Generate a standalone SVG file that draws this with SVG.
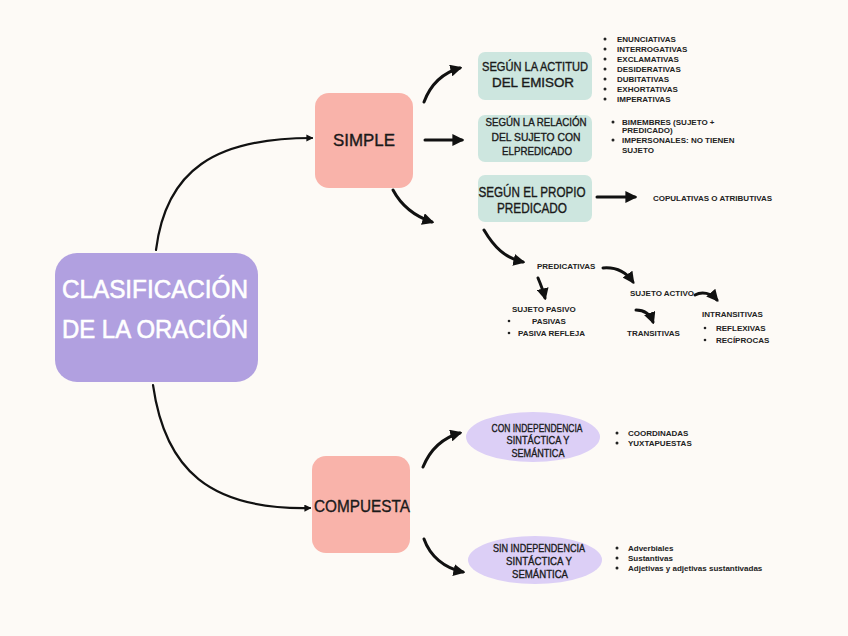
<svg xmlns="http://www.w3.org/2000/svg" width="848" height="636" viewBox="0 0 848 636">
<defs>
<marker id="ah" viewBox="0 0 10 10" refX="8" refY="5" markerWidth="4" markerHeight="4" orient="auto" markerUnits="strokeWidth">
<path d="M0,0 L10,5 L0,10 Z" fill="#111"/>
</marker>
<marker id="ahs" viewBox="0 0 10 10" refX="8" refY="5" markerWidth="3.2" markerHeight="3.2" orient="auto" markerUnits="strokeWidth">
<path d="M0,0 L10,5 L0,10 Z" fill="#111"/>
</marker>
<style>
.hd{font-family:"Liberation Sans","Open Sans",sans-serif;fill:#1a1a1a;stroke:#1a1a1a;stroke-width:0.35;text-anchor:middle}
.wt{fill:#fff;stroke:#fff;stroke-width:0.6}
.sm{font-family:"Liberation Sans",Arial,sans-serif;font-weight:bold;font-size:8px;fill:#222}
.c{stroke:#111;fill:none;stroke-linecap:round}
.thin{stroke-width:2.2}
.thick{stroke-width:3}
.teal{fill:#CDE6DF}
.pink{fill:#F9B3AA}
.lav{fill:#DCCFF6}
</style>
</defs>
<rect width="848" height="636" fill="#FDFAF6"/>

<g id="connectors">
<path class="c thin" d="M156,250 C166,170 215,138 312,138" marker-end="url(#ahs)"/>
<path class="c thin" d="M153,385 C165,470 210,510 310,508" marker-end="url(#ahs)"/>
<path class="c thick" d="M424,102 C430,86 442,73 460,68" marker-end="url(#ah)"/>
<path class="c thick" d="M425,140 L462,140" marker-end="url(#ah)"/>
<path class="c thick" d="M393,190 C401,205 414,216 432,222" marker-end="url(#ah)"/>
<path class="c thick" d="M597,197 L635,197" marker-end="url(#ah)"/>
<path class="c thick" d="M484,230 C494,247 505,258 523,262" marker-end="url(#ah)"/>
<path class="c thick" d="M538,278 C541,285 543,290 545,298" marker-end="url(#ah)"/>
<path class="c thick" d="M603,268 C615,267 626,272 633,282" marker-end="url(#ah)"/>
<path class="c thick" d="M695,295 C702,291 711,293 717,300" marker-end="url(#ah)"/>
<path class="c thick" d="M636,310 C645,310 650,314 653,322" marker-end="url(#ah)"/>
<path class="c thick" d="M423,467 C430,450 442,438 460,433" marker-end="url(#ah)"/>
<path class="c thick" d="M424,539 C430,556 444,568 463,572" marker-end="url(#ah)"/>
</g>

<g id="main">
<rect x="55" y="253" width="203" height="129" rx="22" fill="#B1A0E0"/>
<text class="hd wt" x="155" y="298" font-size="25" textLength="186" lengthAdjust="spacingAndGlyphs">CLASIFICACIÓN</text>
<text class="hd wt" x="155" y="338" font-size="25" textLength="186" lengthAdjust="spacingAndGlyphs">DE LA ORACIÓN</text>
</g>

<g id="simple">
<rect class="pink" x="315" y="93" width="98" height="95" rx="14"/>
<text class="hd" x="364" y="146" font-size="17" textLength="62" lengthAdjust="spacingAndGlyphs">SIMPLE</text>
</g>

<g id="compuesta">
<rect class="pink" x="312" y="456" width="98" height="97" rx="14"/>
<text class="hd" x="362" y="512" font-size="17" textLength="96" lengthAdjust="spacingAndGlyphs">COMPUESTA</text>
</g>

<g id="actitud">
<rect class="teal" x="478" y="52" width="114" height="48" rx="7"/>
<text class="hd" x="535" y="71" font-size="12" textLength="106" lengthAdjust="spacingAndGlyphs">SEGÚN LA ACTITUD</text>
<text class="hd" x="533" y="87" font-size="12" textLength="82" lengthAdjust="spacingAndGlyphs">DEL EMISOR</text>
</g>
<g id="actitud-list">
<circle cx="605" cy="39" r="1.5" fill="#222"/><text class="sm" x="617" y="42">ENUNCIATIVAS</text>
<circle cx="605" cy="49" r="1.5" fill="#222"/><text class="sm" x="617" y="52">INTERROGATIVAS</text>
<circle cx="605" cy="59" r="1.5" fill="#222"/><text class="sm" x="617" y="62">EXCLAMATIVAS</text>
<circle cx="605" cy="69" r="1.5" fill="#222"/><text class="sm" x="617" y="72">DESIDERATIVAS</text>
<circle cx="605" cy="79" r="1.5" fill="#222"/><text class="sm" x="617" y="82">DUBITATIVAS</text>
<circle cx="605" cy="89" r="1.5" fill="#222"/><text class="sm" x="617" y="92">EXHORTATIVAS</text>
<circle cx="605" cy="99" r="1.5" fill="#222"/><text class="sm" x="617" y="102">IMPERATIVAS</text>
</g>

<g id="relacion">
<rect class="teal" x="478" y="115" width="114" height="47" rx="7"/>
<text class="hd" x="536" y="126" font-size="11" textLength="101" lengthAdjust="spacingAndGlyphs">SEGÚN LA RELACIÓN</text>
<text class="hd" x="536" y="141" font-size="11" textLength="89" lengthAdjust="spacingAndGlyphs">DEL SUJETO CON</text>
<text class="hd" x="537" y="155" font-size="11" textLength="70" lengthAdjust="spacingAndGlyphs">ELPREDICADO</text>
</g>
<g id="relacion-list">
<circle cx="613" cy="122" r="1.5" fill="#222"/><text class="sm" x="622" y="125">BIMEMBRES (SUJETO +</text>
<text class="sm" x="622" y="133">PREDICADO)</text>
<circle cx="613" cy="140" r="1.5" fill="#222"/><text class="sm" x="622" y="143">IMPERSONALES: NO TIENEN</text>
<text class="sm" x="622" y="153">SUJETO</text>
</g>

<g id="propio">
<rect class="teal" x="478" y="175" width="114" height="47" rx="7"/>
<text class="hd" x="532" y="197" font-size="14" textLength="107" lengthAdjust="spacingAndGlyphs">SEGÚN EL PROPIO</text>
<text class="hd" x="532" y="213" font-size="14" textLength="70" lengthAdjust="spacingAndGlyphs">PREDICADO</text>
</g>
<g id="copulativas"><text class="sm" x="653" y="201">COPULATIVAS O ATRIBUTIVAS</text></g>
<g id="predicativas"><text class="sm" x="537" y="269">PREDICATIVAS</text></g>
<g id="pasivo">
<text class="sm" x="512" y="312">SUJETO PASIVO</text>
<circle cx="509" cy="321" r="1.3" fill="#222"/><text class="sm" x="532" y="324">PASIVAS</text>
<circle cx="509" cy="333" r="1.3" fill="#222"/><text class="sm" x="518" y="336">PASIVA REFLEJA</text>
</g>
<g id="activo"><text class="sm" x="630" y="296">SUJETO ACTIVO</text></g>
<g id="transitivas"><text class="sm" x="627" y="336">TRANSITIVAS</text></g>
<g id="intransitivas">
<text class="sm" x="702" y="317">INTRANSITIVAS</text>
<circle cx="705" cy="328" r="1.3" fill="#222"/><text class="sm" x="716" y="331">REFLEXIVAS</text>
<circle cx="705" cy="340" r="1.3" fill="#222"/><text class="sm" x="716" y="343">RECÍPROCAS</text>
</g>

<g id="con">
<ellipse class="lav" cx="533" cy="437" rx="67" ry="25"/>
<text class="hd" x="537" y="432" font-size="11" textLength="91" lengthAdjust="spacingAndGlyphs">CON INDEPENDENCIA</text>
<text class="hd" x="538" y="444" font-size="11" textLength="63" lengthAdjust="spacingAndGlyphs">SINTÁCTICA Y</text>
<text class="hd" x="538" y="457" font-size="11" textLength="53" lengthAdjust="spacingAndGlyphs">SEMÁNTICA</text>
</g>
<g id="con-list">
<circle cx="617" cy="433" r="1.5" fill="#222"/><text class="sm" x="628" y="436">COORDINADAS</text>
<circle cx="617" cy="443" r="1.5" fill="#222"/><text class="sm" x="628" y="446">YUXTAPUESTAS</text>
</g>

<g id="sin">
<ellipse class="lav" cx="535" cy="560" rx="67" ry="24"/>
<text class="hd" x="539" y="552" font-size="11" textLength="92" lengthAdjust="spacingAndGlyphs">SIN INDEPENDENCIA</text>
<text class="hd" x="539" y="565" font-size="11" textLength="66" lengthAdjust="spacingAndGlyphs">SINTÁCTICA Y</text>
<text class="hd" x="540" y="578" font-size="11" textLength="56" lengthAdjust="spacingAndGlyphs">SEMÁNTICA</text>
</g>
<g id="sin-list">
<circle cx="617" cy="548" r="1.5" fill="#222"/><text class="sm" x="628" y="551">Adverbiales</text>
<circle cx="617" cy="558" r="1.5" fill="#222"/><text class="sm" x="628" y="561">Sustantivas</text>
<circle cx="617" cy="568" r="1.5" fill="#222"/><text class="sm" x="628" y="571">Adjetivas y adjetivas sustantivadas</text>
</g>
</svg>
